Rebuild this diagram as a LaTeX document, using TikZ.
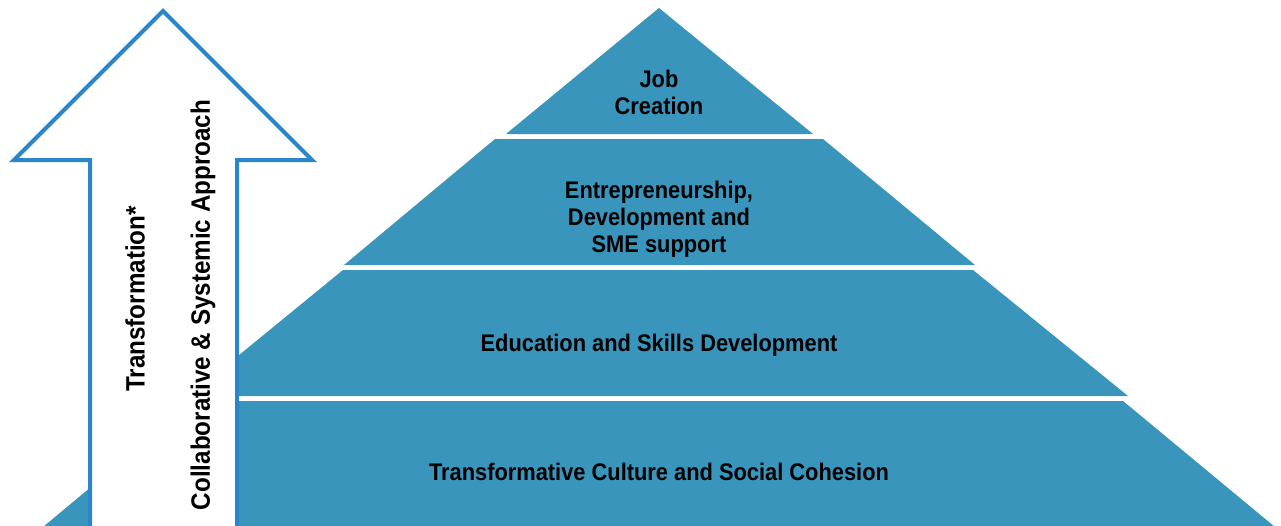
\documentclass[tikz,border=0pt]{standalone}
\usepackage{fontspec}
\setmainfont{Liberation Sans}
\newfontfamily\lbl{Liberation Sans}[FakeStretch=0.91]
\definecolor{pyrblue}{HTML}{3995BC}
\definecolor{arrblue}{HTML}{2A86C8}
\tikzset{
  pyr/.style={fill=pyrblue},
  arr/.style={draw=arrblue,line width=4pt,fill=white,line join=miter},
  lab/.style={font=\lbl\bfseries\fontsize{24}{27}\selectfont,align=center,text=black,inner sep=0pt},
  vlab/.style={font=\lbl\bfseries\fontsize{26.6}{30}\selectfont,rotate=90,text=black,inner sep=0pt}
}
\begin{document}
\begin{tikzpicture}[x=1pt,y=-1pt]
\useasboundingbox (0,0) rectangle (1281,525);
\begin{scope}
\clip (0,0) rectangle (1281,525);
\fill[pyr] (659,8) -- (813,134) -- (506,134) -- cycle;
\fill[pyr] (495,139) -- (823,139) -- (975,265) -- (344,265) -- cycle;
\fill[pyr] (343,270) -- (973,270) -- (1128,396) -- (189,396) -- cycle;
\fill[pyr] (194,401) -- (1123,401) -- (1275,527) -- (43,527) -- cycle;
\draw[arr] (163,11) -- (312,160) -- (237,160) -- (237,540) -- (90,540) -- (90,160) -- (14,160) -- cycle;
\end{scope}
\node[lab] (job) at (659,92) {Job\\Creation};
\node[lab] (ent) at (659,219) {Entrepreneurship,\\Development and\\SME support};
\node[lab] (edu) at (659,345) {Education and Skills Development};
\node[lab] (cul) at (659,472) {Transformative Culture and Social Cohesion};
\node[vlab] (tra) at (135,299) {Transformation*};
\node[vlab] (col) at (203,305) {Collaborative \& Systemic Approach};
\end{tikzpicture}
\end{document}
